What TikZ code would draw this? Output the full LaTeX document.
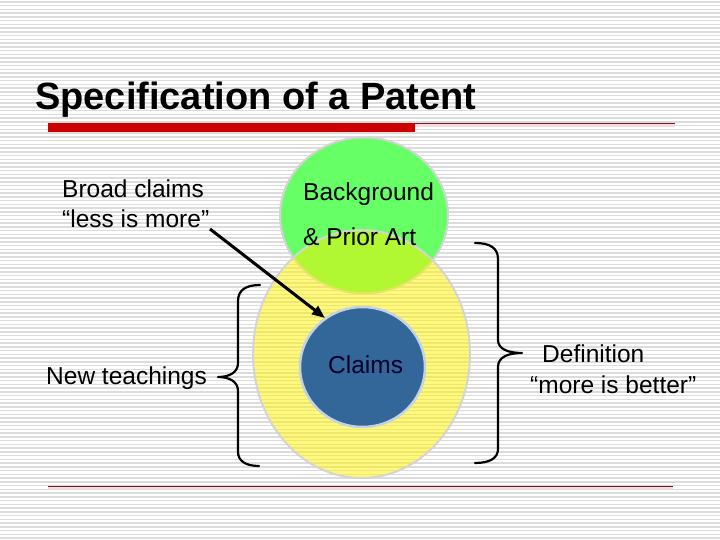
\documentclass[tikz,border=0pt]{standalone}
\usepackage{fontspec}
\setmainfont{Liberation Sans}
\usetikzlibrary{shapes.geometric,arrows.meta}
\definecolor{stripe}{RGB}{220,220,220}
\definecolor{bggreen}{RGB}{102,255,102}
\definecolor{claimblue}{RGB}{51,102,153}
\definecolor{claimtext}{RGB}{0,0,40}
\definecolor{rimgray}{RGB}{212,212,212}
\definecolor{rimblue}{RGB}{196,210,226}
\definecolor{titlered}{RGB}{204,0,0}
\definecolor{rulemaroon}{RGB}{100,30,45}
\definecolor{rulepink}{RGB}{250,215,220}
\tikzset{
  bodytext/.style={font=\fontsize{24.5}{28}\selectfont, inner sep=0pt, anchor=base west, text=black},
  brace/.style={draw=black, line width=2.2pt, line cap=round, line join=round},
  blob/.style={ellipse, inner sep=0pt},
}
\begin{document}
\begin{tikzpicture}[x=1pt,y=-1pt]
\useasboundingbox (0,0) rectangle (720,540);
\fill[white] (0,0) rectangle (720,540);
% stripes
\foreach \k in {0,...,143} {
  \fill[stripe] (0,{1.2+3.75*\k}) rectangle (720,{2.6+3.75*\k});
}
% title
\node[font=\fontsize{38}{44}\selectfont\bfseries, inner sep=0pt, anchor=base west] (title) at (35,110) {Specification of a Patent};
\draw[rulepink, line width=2.5pt] (414,125.5) -- (675,125.5);
\draw[rulemaroon, line width=1pt] (414,123.8) -- (675,123.8);
\fill[titlered] (48,123) rectangle (415,132);
% bottom rule
\draw[rulepink, line width=2.5pt] (48,488) -- (673,488);
\draw[rulemaroon, line width=1pt] (48,486) -- (673,486);
% circles
\node[blob, fill=bggreen, draw=rimgray, line width=2pt, minimum width=168pt, minimum height=156pt] (bg) at (364,215.5) {};
\node[blob, fill=yellow, fill opacity=0.5, draw=rimgray, draw opacity=1, line width=2pt, minimum width=217pt, minimum height=248pt] (teach) at (361.5,354) {};
\node[blob, fill=claimblue, draw=rimblue, line width=2.5pt, minimum width=125pt, minimum height=120pt] (claims) at (362.5,367) {};
% texts
\node[bodytext] (t1) at (303,201) {Background};
\node[bodytext] (t2) at (303,245) {\& Prior Art};
\node[bodytext, text=claimtext] (t3) at (328,373) {Claims};
\node[bodytext] (broad) at (62,198) {Broad claims};
\node[bodytext] (less) at (62,228) {“less is more”};
\node[bodytext] (new) at (46,384) {New teachings};
\node[bodytext] (defn) at (542,362) {Definition};
\node[bodytext] (more) at (530,393) {“more is better”};
% arrow
\coordinate (astart) at (210,229);
\coordinate (aend) at (325,318);
\draw[line width=3pt, -{Triangle[length=13pt,width=10pt]}] (astart) -- (aend);
% left brace
\coordinate (lb1) at (260,285);
\coordinate (lbt) at (218,377);
\coordinate (lb2) at (259,466);
\draw[brace] (lb1) .. controls (246,285) and (238,290) .. (238,301)
  -- (238,363) .. controls (238,372) and (230,377) .. (lbt)
  .. controls (230,377) and (238,382) .. (238,391)
  -- (238,452) .. controls (238,461) and (246,466) .. (lb2);
% right brace
\coordinate (rb1) at (475,243);
\coordinate (rbt) at (522,353);
\coordinate (rb2) at (475,463);
\draw[brace] (rb1) .. controls (490,243) and (498,248) .. (498,259)
  -- (498,340) .. controls (498,349) and (508,353) .. (rbt)
  .. controls (508,353) and (498,357) .. (498,367)
  -- (498,449) .. controls (498,458) and (490,463) .. (rb2);
\end{tikzpicture}
\end{document}
